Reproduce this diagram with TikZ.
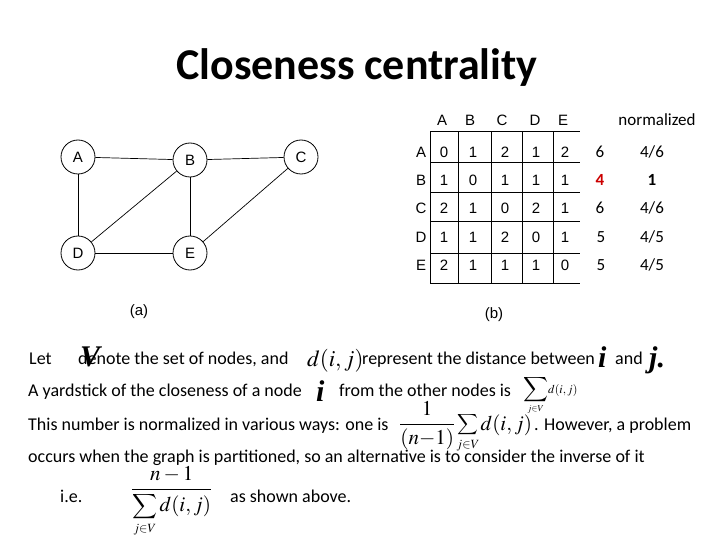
\documentclass[tikz,border=0pt]{standalone}
\usepackage{amsmath,mathtools}
\usepackage{mathptmx}
\usepackage{exscale}
\usepackage[no-math]{fontspec}
\setmainfont{Carlito}
\newfontfamily\tabfont{Liberation Sans}
\newfontfamily\symfont{Liberation Serif}
\usetikzlibrary{positioning}
\newcommand{\bodyfont}{\fontsize{18}{21}\selectfont}
\newcommand{\tabsize}{\tabfont\fontsize{15}{18}\selectfont}
\newcommand{\sumop}[1]{\mathop{\vcenter{\hbox{\fontsize{#1}{#1}\selectfont$\displaystyle\sum$}}}}

\begin{document}
\begin{tikzpicture}[
  x=1pt,y=-1pt,
  every node/.style={inner sep=0pt},
  vertex/.style={draw,circle,minimum size=34pt,line width=0.8pt,font=\tabsize},
  edge/.style={line width=0.7pt},
  grid/.style={line width=1pt},
  hdr/.style={font=\tabsize},
  cell/.style={font=\tabsize},
  sumval/.style={font=\fontsize{17}{20}\selectfont},
  body/.style={anchor=base west,font=\bodyfont},
  bigsym/.style={anchor=base west,font=\symfont\bfseries\itshape\fontsize{30}{30}\selectfont},
  formula/.style={anchor=base west}
]
\fill[white] (0,0) rectangle (720,540);
\useasboundingbox (0,0) rectangle (720,540);

% title
\node[font=\bfseries\fontsize{44}{52}\selectfont] (title) at (357,68) {Closeness centrality};

% graph (a)
\node[vertex] (A) at (78,157) {A};
\node[vertex] (B) at (190,160) {B};
\node[vertex] (C) at (301,157) {C};
\node[vertex] (D) at (78,253) {D};
\node[vertex] (E) at (190,253) {E};
\draw[edge] (A) -- (B);
\draw[edge] (B) -- (C);
\draw[edge] (A) -- (D);
\draw[edge] (B) -- (D);
\draw[edge] (B) -- (E);
\draw[edge] (C) -- (E);
\draw[edge] (D) -- (E);
\node[font=\tabsize] (lbla) at (139,312) {(a)};

% distance table (b)
\draw[grid] (430,132) -- (580,132);
\foreach \y in {163,193,222,253,283} \draw[grid] (430,\y) -- (580,\y);
\foreach \x in {430,458,491,522,553} \draw[grid] (\x,132) -- (\x,283);
\foreach \c/\x in {A/442,B/470,C/502,D/535,E/563}
  \node[hdr] (col\c) at (\x,120) {\c};
\foreach \r/\y/\vals in {A/152/{0,1,2,1,2},B/180/{1,0,1,1,1},C/208/{2,1,0,2,1},D/237/{1,1,2,0,1},E/265/{2,1,1,1,0}}{
  \node[hdr] (row\r) at (421,\y) {\r};
  \foreach \v [count=\k] in \vals {
    \pgfmathsetmacro{\cx}{{444,473,505,536,565}[\k-1]}
    \node[cell] (cell\r\k) at (\cx,\y) {\v};
  }
}
\node[sumval] (norm) at (657,120) {normalized};
\node[sumval] (sumA) at (600,152) {6};
\node[sumval,font=\bfseries\fontsize{17}{20}\selectfont,text={rgb,255:red,204;green,0;blue,0}] (sumB) at (600,180) {4};
\node[sumval] (sumC) at (600,208) {6};
\node[sumval] (sumD) at (601,237) {5};
\node[sumval] (sumE) at (601,265) {5};
\node[sumval] (nrmA) at (652,152) {4/6};
\node[sumval,font=\bfseries\fontsize{17}{20}\selectfont] (nrmB) at (652,180) {1};
\node[sumval] (nrmC) at (652,208) {4/6};
\node[sumval] (nrmD) at (652,237) {4/5};
\node[sumval] (nrmE) at (652,265) {4/5};
\node[font=\tabsize] (lblb) at (494,315) {(b)};

% text lines
\node[body] (let) at (29,364) {Let};
\node[body] (denote) at (78,364) {denote the set of nodes, and};
\node[bigsym] (symV) at (80,366) {V};
\node[formula,font=\fontsize{23}{26}\selectfont] (dij) at (307,366) {$d(i,j)$};
\node[body] (repr) at (362,364) {represent the distance between};
\node[bigsym] (symi) at (598,367) {i};
\node[body] (and) at (615,364) {and};
\node[bigsym] (symj) at (649,367) {j.};

\node[body] (yard) at (28,396) {A yardstick of the closeness of a node};
\node[bigsym] (symi2) at (316,401) {i};
\node[body] (from) at (339,396) {from the other nodes is};
\node[formula] (sumdij) at (523,393)
  {\fontsize{12}{14}\selectfont$\sumop{16}\limits_{\mathclap{j\in V}}\!d(i,j)$};

\node[body] (norml) at (28,430) {This number is normalized in various ways: one is};
\node[formula,font=\fontsize{21}{25}\selectfont] (normf) at (399,430)
  {$\dfrac{1}{(n{-}1)}\sumop{14}\limits_{\mathclap{\scriptscriptstyle j\in V}} d(i,j)$};
\node[body] (however) at (534,430) {. However, a problem};

\node[body] (occurs) at (28,462) {occurs when the graph is partitioned, so an alternative is to consider the inverse of it};

\node[body] (ie) at (60,502) {i.e.};
\node[formula,font=\fontsize{21}{25}\selectfont] (inv) at (131,495)
  {$\dfrac{n-1}{\sumop{16}\limits_{\mathclap{\scriptscriptstyle j\in V}} d(i,j)}$};
\node[body] (shown) at (230,502) {as shown above.};
\end{tikzpicture}
\end{document}
